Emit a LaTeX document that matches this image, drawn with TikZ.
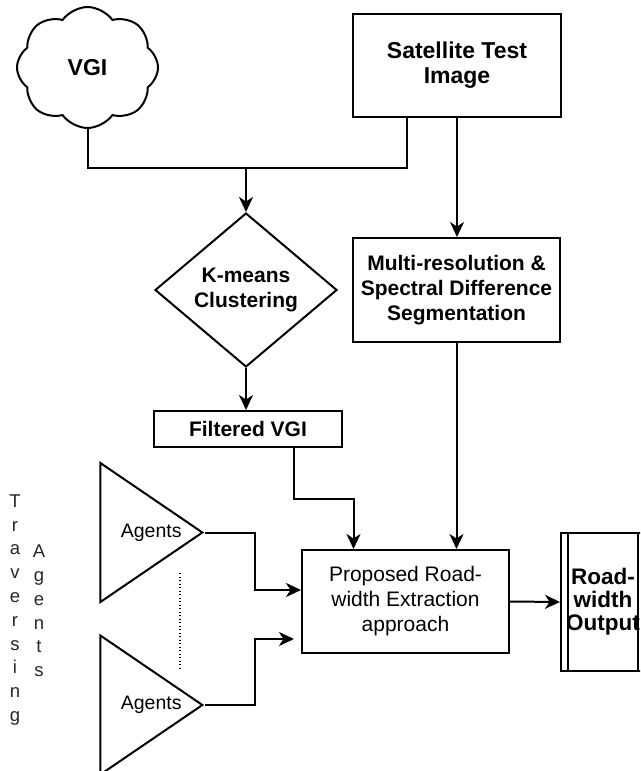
\documentclass[tikz,border=0pt]{standalone}
\usepackage{fontspec}
\setmainfont{Liberation Sans}
\usetikzlibrary{arrows.meta, shapes.geometric, shapes.symbols}

\begin{document}
\begin{tikzpicture}[x = 1pt, y = -1pt, line width = 2pt,
    box/.style = {draw, rectangle, align = center, inner sep = 0pt},
    bigbold/.style = {font = \fontsize{21}{25}\selectfont\bfseries},
    agent/.style = {draw, isosceles triangle, isosceles triangle stretches, shape border rotate = 0,
      minimum width = 139pt, minimum height = 102pt, inner sep = 0pt, anchor = apex,
      font = \fontsize{19.5}{23}\selectfont},
    flow/.style = {-{Stealth[length = 15pt, width = 14pt, inset = 4.5pt]}},
    vtext/.style = {align = center, text = black!85, font = \fontsize{18.5}{23.8}\selectfont}]

    \useasboundingbox (0,0) rectangle (640,771);
    \clip (0,0) rectangle (640,771);

    %inputs
    \node (vgi) at (87.5, 67.5) [draw, cloud, cloud puffs = 8, cloud puff arc = 110, cloud ignores aspect,
      minimum width = 141pt, minimum height = 121pt, inner sep = 0pt,
      font = \fontsize{23}{27}\selectfont\bfseries] {VGI};
    \node (sat) at (457, 65.5) [box, minimum width = 208pt, minimum height = 103pt,
      font = \fontsize{23}{25}\selectfont\bfseries] {Satellite Test\\Image};

    %processing
    \node (kmeans) at (246, 290) [draw, diamond, minimum width = 182pt, minimum height = 154pt,
      inner sep = 0pt, align = center, bigbold] {K-means\\Clustering};
    \node (filtered) at (248, 429) [box, minimum width = 188pt, minimum height = 36pt, bigbold] {Filtered VGI};
    \node (multi) at (456.5, 290) [box, minimum width = 207pt, minimum height = 104pt, bigbold]
      {Multi-resolution \&\\Spectral Difference\\Segmentation};
    \node (proposed) at (405.5, 601.5) [box, minimum width = 207pt, minimum height = 103pt,
      font = \fontsize{21}{25}\selectfont] {Proposed Road-\\width Extraction\\approach};
    \node (road) at (603, 602) [box, minimum width = 84pt, minimum height = 138pt,
      font = \fontsize{22.5}{23}\selectfont\bfseries] {Road-\\width\\Output};
    \draw ([xshift = 8pt]road.north west) -- ([xshift = 8pt]road.south west);
    \draw ([xshift = -8pt]road.north east) -- ([xshift = -8pt]road.south east);

    %agents
    \node (agentA) at (205, 532.5) [agent] {\hspace*{16pt}Agents};
    \node (agentB) at (205, 705) [agent] {\hspace*{16pt}Agents};
    \draw [line width = 1.3pt, dash pattern = on 1.3pt off 2.2pt] (180, 573) -- (180, 670);

    \node (trav) at (15, 610) [vtext] {T\\r\\a\\v\\e\\r\\s\\i\\n\\g};
    \node (agt) at (39, 611) [vtext] {A\\g\\e\\n\\t\\s};

    %connectors
    \path (kmeans.north) -- ++(0, -44) coordinate (join);
    \draw (vgi.south) |- (join);
    \draw ([xshift = -50pt]sat.south) |- (join);
    \draw [flow] (join) -- (kmeans.north);
    \draw [flow] (sat.south) -- (sat.south |- multi.north);
    \draw [flow] (kmeans.south) -- (kmeans.south |- filtered.north);
    \draw [flow] ([xshift = 46pt]filtered.south) -- ++(0, 51) -| ([xshift = -52pt]proposed.north);
    \draw [flow] (multi.south) -- (multi.south |- proposed.north);
    \draw [flow] (agentA.apex) -- ++(50, 0) |- ([yshift = 11.5pt]proposed.west);
    \draw [flow, shorten > = 7pt] (agentB.apex) -- ++(50, 0) |- ([yshift = -37.5pt]proposed.west);
    \draw [flow] (proposed.east) -- (road.west);

\end{tikzpicture}
\end{document}
